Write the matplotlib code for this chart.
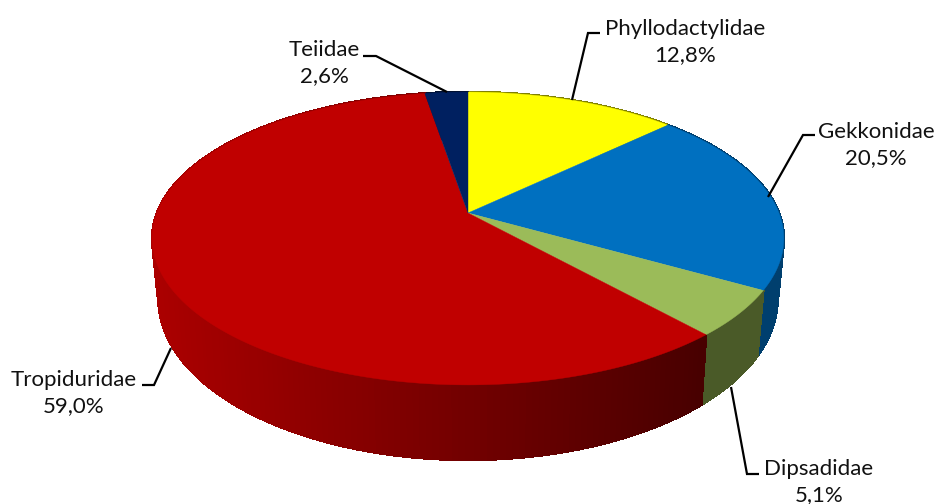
import numpy as np
import matplotlib
matplotlib.use('Agg')
import matplotlib.pyplot as plt

# Data
families = ['Phyllodactylidae', 'Gekkonidae', 'Dipsadidae', 'Tropiduridae', 'Teiidae']
percent = [12.8, 20.5, 5.1, 59.0, 2.6]

# Colours
top_colors = ['#FFFF00', '#0070C0', '#9BBB59', '#C00000', '#002060']
side_colors = ['#808000', '#003F6E', '#4A5A28', None, '#001030']

# Layout, in pixels of the 936x504 picture
cx, cy = 468, 213
rx, ry, persp = 311, 142, 0.174
side_scale, side_ry, side_cy = 0.98, 156, 271

label_pos = [(685, 42), (876, 145), (819, 482), (74, 393), (324, 63)]
leaders = [
    [(600, 33), (588, 33), (572, 100)],
    [(815, 135), (803, 135), (768, 197)],
    [(759, 474), (747, 474), (731, 387)],
    [(142, 385), (154, 385), (171, 348)],
    [(363, 56), (376, 56), (447, 92)],
]


def rim(theta, r=1.0):
    # angle measured clockwise from the top of the pie
    u, v = r * np.sin(theta), -r * np.cos(theta)
    w = 1 - persp * v
    return cx + rx * u / w, cy + ry * v / w


def rim_bottom(theta):
    u, v = np.sin(theta), -np.cos(theta)
    w = 1 - persp * v
    return cx + side_scale * rx * u / w, side_cy + side_ry * v / w


def red_shade(x):
    # red side gets darker going left to right
    t = np.clip((x - 155) / (705 - 155), 0, 1)
    return (0.67 - 0.39 * t, 0, 0)


fig = plt.figure(figsize=(9.36, 5.04), dpi=100)
ax = fig.add_axes([0, 0, 1, 1])
ax.set_xlim(0, 936)
ax.set_ylim(504, 0)
ax.axis('off')

edges = np.radians(np.concatenate([[0], np.cumsum(percent)]) * 3.6)

# Side of the pie, drawn first so the top covers what is hidden
quads = []
for i in range(len(percent)):
    steps = max(int(np.degrees(edges[i + 1] - edges[i])), 2)
    t = np.linspace(edges[i], edges[i + 1], steps + 1)
    for a, b in zip(t[:-1], t[1:]):
        x0, y0 = rim(a)
        x1, y1 = rim(b)
        x2, y2 = rim_bottom(b)
        x3, y3 = rim_bottom(a)
        c = side_colors[i]
        if c is None:
            c = red_shade((x0 + x1) / 2)
        quads.append(((y2 + y3) / 2, [x0, x1, x2, x3], [y0, y1, y2, y3], c))

for _, xs, ys, c in sorted(quads, key=lambda q: q[0]):
    ax.fill(xs, ys, facecolor=c, edgecolor=c, lw=1.2, antialiased=False)

# Top of the pie
for i in range(len(percent)):
    t = np.linspace(edges[i], edges[i + 1], 200)
    x, y = rim(t)
    ax.fill(np.r_[cx, x], np.r_[cy, y], color=top_colors[i], lw=0.3)

# Leader lines and labels
for pts in leaders:
    ax.plot([p[0] for p in pts], [p[1] for p in pts], color='black', lw=1.6,
            solid_joinstyle='miter', solid_capstyle='butt')

for name, val, pos in zip(families, percent, label_pos):
    label = name + '\n' + f'{val:.1f}'.replace('.', ',') + '%'
    ax.text(pos[0], pos[1], label, ha='center', va='center', multialignment='center',
            family=['Lato', 'DejaVu Sans'], fontsize=16, color='#111111', linespacing=1.4)

plt.savefig('out.png', dpi=100)
